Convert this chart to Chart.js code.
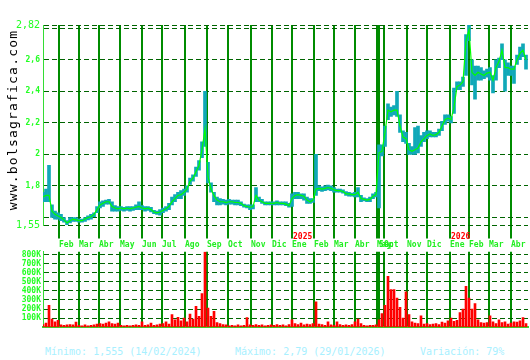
<!DOCTYPE html>
<html>
<head>
<meta charset="utf-8">
<script src="https://cdn.jsdelivr.net/npm/chart.js@4.4.1/dist/chart.umd.min.js"></script>
<style>
  body { margin: 0; background: #fff; width: 530px; height: 360px; position: relative; overflow: hidden; font-family: "DejaVu Sans Mono", monospace; }
  #priceChart { position: absolute; left: 0; top: 0; }
  #volChart { position: absolute; left: 0; top: 245px; }
  #site { position: absolute; left: -87px; top: 112px; width: 200px; height: 16px; line-height: 16px; text-align: center;
          transform: rotate(-90deg); font-size: 13px; letter-spacing: 1.2px; color: #000; }
  #stats { position: absolute; top: 346px; left: 0; width: 530px; height: 14px; font-size: 10px; color: #a8f0ff; }
  #stats span { position: absolute; top: 0; white-space: pre; }
</style>
</head>
<body>
<canvas id="volChart" width="530" height="89"></canvas>
<canvas id="priceChart" width="530" height="252"></canvas>
<div id="site">www.bolsagrafica.com</div>
<div id="stats">
  <span style="left:45px">Mínimo: 1,555 (14/02/2024)</span>
  <span style="left:235px">Máximo: 2,79 (29/01/2026)</span>
  <span style="left:420px">Variación: 79%</span>
</div>
<script>
// one sample = 3 trading days, jan 2024 .. apr 2026 (may-sep 2025 missing in source)
const DAYS_PER_SAMPLE = 3;

const close = [
  1.73, 1.74, 1.74, 1.64, 1.62, 1.61, 1.60, 1.585, 1.565, 1.58,
  1.59, 1.585, 1.58, 1.58, 1.59, 1.60, 1.605, 1.62, 1.65, 1.68,
  1.69, 1.70, 1.70, 1.67, 1.66, 1.655, 1.66, 1.655, 1.66, 1.655,
  1.66, 1.665, 1.67, 1.66, 1.655, 1.66, 1.65, 1.635, 1.63, 1.635,
  1.645, 1.655, 1.67, 1.70, 1.72, 1.74, 1.745, 1.76, 1.78, 1.83,
  1.85, 1.89, 1.93, 2.03, 2.16, 1.86, 1.78, 1.74, 1.71, 1.70,
  1.70, 1.695, 1.70, 1.70, 1.695, 1.695, 1.69, 1.675, 1.67, 1.665,
  1.67, 1.74, 1.71, 1.70, 1.69, 1.69, 1.69, 1.69, 1.695, 1.69,
  1.69, 1.685, 1.675, 1.72, 1.74, 1.745, 1.74, 1.735, 1.71, 1.70,
  1.71, 1.78, 1.785, 1.78, 1.785, 1.79, 1.785, 1.775, 1.77, 1.77,
  1.765, 1.75, 1.75, 1.745, 1.745, 1.76, 1.72, 1.715, 1.71, 1.715,
  1.735, 1.745, 2.01, 2.02, 2.14, 2.28, 2.27, 2.28, 2.28, 2.18,
  2.11, 2.10, 2.03, 2.02, 2.03, 2.04, 2.08, 2.10, 2.12, 2.13,
  2.12, 2.125, 2.14, 2.18, 2.22, 2.23, 2.22, 2.30, 2.43, 2.44,
  2.46, 2.72, 2.79, 2.52, 2.50, 2.52, 2.51, 2.50, 2.515, 2.52,
  2.47, 2.55, 2.59, 2.66, 2.55, 2.55, 2.54, 2.54, 2.60, 2.64,
  2.66, 2.60
];

const low = [
  1.70, 1.70, 1.70, 1.60, 1.59, 1.59, 1.58, 1.57, 1.555, 1.565,
  1.575, 1.575, 1.57, 1.57, 1.575, 1.585, 1.59, 1.605, 1.63, 1.66,
  1.67, 1.685, 1.685, 1.64, 1.64, 1.64, 1.645, 1.64, 1.645, 1.64,
  1.645, 1.65, 1.65, 1.65, 1.64, 1.645, 1.635, 1.625, 1.62, 1.615,
  1.63, 1.64, 1.65, 1.68, 1.70, 1.72, 1.72, 1.74, 1.76, 1.81,
  1.83, 1.86, 1.90, 1.98, 2.05, 1.82, 1.76, 1.70, 1.68, 1.68,
  1.685, 1.68, 1.685, 1.685, 1.68, 1.68, 1.675, 1.665, 1.66, 1.65,
  1.655, 1.70, 1.70, 1.69, 1.68, 1.68, 1.68, 1.68, 1.68, 1.68,
  1.68, 1.675, 1.665, 1.67, 1.72, 1.72, 1.72, 1.71, 1.69, 1.69,
  1.695, 1.74, 1.77, 1.765, 1.77, 1.775, 1.77, 1.76, 1.76, 1.76,
  1.755, 1.74, 1.735, 1.735, 1.73, 1.73, 1.70, 1.705, 1.70, 1.70,
  1.72, 1.73, 1.66, 1.99, 2.05, 2.22, 2.24, 2.25, 2.24, 2.14,
  2.08, 2.07, 2.00, 2.00, 2.00, 2.01, 2.05, 2.08, 2.10, 2.11,
  2.11, 2.11, 2.12, 2.15, 2.19, 2.21, 2.20, 2.26, 2.41, 2.41,
  2.43, 2.50, 2.72, 2.44, 2.35, 2.47, 2.47, 2.48, 2.49, 2.47,
  2.39, 2.47, 2.55, 2.60, 2.40, 2.50, 2.50, 2.45, 2.57, 2.60,
  2.62, 2.54
];

const high = [
  1.76, 1.78, 1.93, 1.68, 1.64, 1.63, 1.62, 1.60, 1.58, 1.60,
  1.60, 1.60, 1.59, 1.59, 1.60, 1.61, 1.62, 1.63, 1.67, 1.70,
  1.705, 1.71, 1.715, 1.70, 1.675, 1.67, 1.67, 1.665, 1.67, 1.67,
  1.67, 1.68, 1.70, 1.675, 1.67, 1.67, 1.665, 1.645, 1.64, 1.65,
  1.66, 1.67, 1.69, 1.73, 1.745, 1.76, 1.77, 1.78, 1.80, 1.85,
  1.87, 1.92, 1.96, 2.08, 2.40, 1.95, 1.82, 1.76, 1.73, 1.72,
  1.715, 1.71, 1.715, 1.71, 1.71, 1.71, 1.70, 1.685, 1.68, 1.68,
  1.68, 1.79, 1.73, 1.715, 1.70, 1.70, 1.70, 1.70, 1.705, 1.70,
  1.70, 1.70, 1.69, 1.75, 1.76, 1.76, 1.75, 1.75, 1.73, 1.72,
  1.72, 2.00, 1.80, 1.795, 1.80, 1.805, 1.80, 1.79, 1.78, 1.78,
  1.775, 1.765, 1.76, 1.755, 1.76, 1.79, 1.74, 1.725, 1.72, 1.73,
  1.75, 1.76, 2.06, 2.06, 2.18, 2.32, 2.30, 2.31, 2.40, 2.25,
  2.15, 2.14, 2.07, 2.05, 2.17, 2.18, 2.12, 2.14, 2.15, 2.15,
  2.14, 2.14, 2.16, 2.21, 2.25, 2.25, 2.24, 2.42, 2.46, 2.46,
  2.49, 2.76, 2.82, 2.60, 2.56, 2.56, 2.55, 2.53, 2.54, 2.55,
  2.50, 2.60, 2.61, 2.70, 2.60, 2.58, 2.56, 2.56, 2.63, 2.68,
  2.70, 2.63
];

// volume, thousands of shares
const volume = [
  30, 45, 240, 90, 60, 75, 25, 20, 25, 30,
  25, 55, 20, 15, 25, 15, 20, 25, 35, 40,
  35, 45, 60, 40, 35, 45, 20, 15, 20, 15,
  20, 25, 20, 60, 20, 25, 45, 20, 25, 35,
  40, 60, 35, 140, 80, 110, 70, 100, 60, 145,
  90, 230, 120, 370, 830, 210, 120, 175, 50, 40,
  30, 25, 15, 20, 15, 25, 15, 20, 105, 25,
  20, 30, 20, 25, 15, 20, 25, 20, 30, 20,
  25, 15, 30, 80, 40, 30, 45, 25, 35, 30,
  40, 280, 35, 30, 20, 60, 25, 20, 60, 30,
  20, 25, 20, 30, 60, 90, 40, 20, 15, 20,
  20, 25, 80, 150, 240, 560, 415, 415, 320, 220,
  100, 390, 140, 60, 45, 40, 125, 35, 40, 30,
  35, 40, 30, 55, 45, 70, 100, 65, 75, 160,
  200, 450, 320, 200, 260, 80, 50, 45, 50, 125,
  60, 40, 80, 50, 60, 35, 45, 60, 55, 70,
  105, 40
];

// month starts, in trading days from the first session shown
const monthDays = [16, 36, 56, 77, 99, 119, 142, 164, 185, 208, 229, 249, 271, 291, 312, 334, 336, 341, 364, 384, 407, 426, 446, 468];
const monthLabels = ['Feb', 'Mar', 'Abr', 'May', 'Jun', 'Jul', 'Ago', 'Sep', 'Oct', 'Nov', 'Dic', 'Ene', 'Feb', 'Mar', 'Abr', 'May', 'Sep', 'Oct', 'Nov', 'Dic', 'Ene', 'Feb', 'Mar', 'Abr'];
const yearDays = [249, 407];
const yearLabels = ['2025', '2026'];
const LAST_DAY = 485;

const yTickValues = [1.55, 1.6, 1.8, 2, 2.2, 2.4, 2.6, 2.8, 2.82];
const yTickText = ['1,55', '', '1,8', '2', '2,2', '2,4', '2,6', '', '2,82'];
const volTicks = [100, 200, 300, 400, 500, 600, 700, 800];
const VOL_MAX = 830;

const days = close.map((_, i) => i * DAYS_PER_SAMPLE);

const MONO = 'DejaVu Sans Mono';
const smallFont = { family: MONO, size: 8, weight: 'bold' };
const bigFont = { family: MONO, size: 10, weight: 'normal' };

const monthTicks = scale => { scale.ticks = monthDays.map(v => ({ value: v })); };

const yearPlugin = {
  id: 'yearLabels',
  afterDraw(chart) {
    const x = chart.scales.x;
    const ctx = chart.ctx;
    ctx.save();
    ctx.font = 'bold 8px "' + MONO + '"';
    ctx.fillStyle = '#ff0000';
    ctx.textBaseline = 'middle';
    yearDays.forEach((d, i) => {
      ctx.fillText(yearLabels[i], x.getPixelForValue(d) + 1, chart.chartArea.bottom + 12);
    });
    ctx.restore();
  }
};

new Chart(document.getElementById('priceChart'), {
  type: 'bar',
  data: {
    labels: days,
    datasets: [
      {
        type: 'line',
        data: close,
        borderColor: '#00ff00',
        borderWidth: 1.2,
        pointRadius: 0,
        order: 0
      },
      {
        type: 'bar',
        data: low.map((l, i) => [l, high[i]]),
        backgroundColor: '#10a8b8',
        barThickness: 3,
        order: 1
      }
    ]
  },
  options: {
    responsive: false,
    animation: false,
    layout: { padding: { top: 25, right: 2, left: 0, bottom: 0 } },
    plugins: { legend: { display: false }, tooltip: { enabled: false } },
    scales: {
      x: {
        type: 'linear',
        min: 0,
        max: LAST_DAY,
        offset: false,
        afterBuildTicks: monthTicks,
        ticks: {
          autoSkip: false, maxRotation: 0, minRotation: 0, align: 'start',
          color: '#22ee22', font: smallFont, padding: 2,
          callback: (v, i) => monthLabels[i]
        },
        grid: { color: '#008c00', lineWidth: 2, tickLength: 13, offset: false },
        border: { display: false }
      },
      y: {
        min: 1.55,
        max: 2.82,
        afterBuildTicks: s => { s.ticks = yTickValues.map(v => ({ value: v })); },
        afterFit: s => { s.width = 43; },
        ticks: {
          autoSkip: false, color: '#22ff22', padding: 3,
          font: c => (c.index === 0 || c.index === yTickValues.length - 1) ? bigFont : smallFont,
          callback: (v, i) => yTickText[i]
        },
        grid: { color: '#006400', lineWidth: 1, drawTicks: false },
        border: { display: true, color: '#33dd33', width: 1, dash: [5, 3] }
      }
    }
  },
  plugins: [yearPlugin]
});

new Chart(document.getElementById('volChart'), {
  type: 'bar',
  data: {
    labels: days,
    datasets: [{
      data: volume,
      backgroundColor: '#ff0000',
      barThickness: 2
    }]
  },
  options: {
    responsive: false,
    animation: false,
    layout: { padding: { top: 5, right: 2, left: 0, bottom: 1 } },
    plugins: { legend: { display: false }, tooltip: { enabled: false } },
    scales: {
      x: {
        type: 'linear',
        min: 0,
        max: LAST_DAY,
        offset: false,
        afterBuildTicks: monthTicks,
        ticks: { display: false },
        grid: { color: '#008c00', lineWidth: 2, drawTicks: false, offset: false },
        border: { display: true, color: '#33dd33', width: 2 }
      },
      y: {
        min: 0,
        max: VOL_MAX,
        afterBuildTicks: s => { s.ticks = volTicks.map(v => ({ value: v })); },
        afterFit: s => { s.width = 43; },
        ticks: {
          autoSkip: false, color: '#22ff22', padding: 2, font: smallFont,
          callback: v => v + 'K'
        },
        grid: { color: '#006400', lineWidth: 1, drawTicks: false },
        border: { display: true, color: '#33dd33', width: 1, dash: [5, 3] }
      }
    }
  }
});
</script>
</body>
</html>
